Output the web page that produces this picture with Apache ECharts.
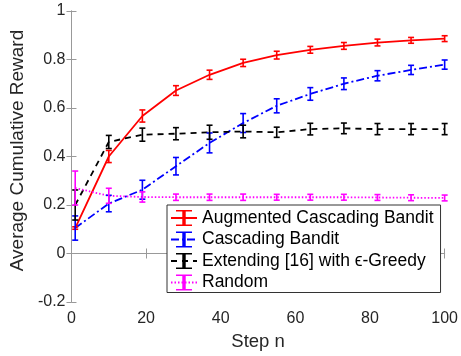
<!DOCTYPE html>
<html>
<head>
<meta charset="utf-8">
<script src="https://cdn.jsdelivr.net/npm/echarts@6/dist/echarts.min.js"></script>
<style>
  html, body { margin: 0; padding: 0; background: #fff; }
  #chart { width: 461px; height: 356px; }
</style>
</head>
<body>
<div id="chart"></div>
<script>
// steps on the x axis
const steps = [1, 10, 19, 28, 37, 46, 55, 64, 73, 82, 91, 100];

// mean values
const augmented = [0.105, 0.40, 0.567, 0.672, 0.737, 0.786, 0.818, 0.840, 0.856, 0.870, 0.879, 0.886];
const cascading = [0.105, 0.206, 0.263, 0.360, 0.456, 0.538, 0.609, 0.658, 0.700, 0.733, 0.757, 0.779];
const extending = [0.200, 0.460, 0.490, 0.494, 0.500, 0.503, 0.500, 0.513, 0.516, 0.513, 0.513, 0.513];
const random    = [0.270, 0.238, 0.233, 0.232, 0.232, 0.232, 0.232, 0.232, 0.232, 0.231, 0.230, 0.229];

// half-widths of the error bars
const augmentedErr = [0.005, 0.025, 0.025, 0.020, 0.019, 0.015, 0.016, 0.014, 0.014, 0.014, 0.012, 0.012];
const cascadingErr = [0.050, 0.034, 0.039, 0.036, 0.041, 0.039, 0.029, 0.026, 0.024, 0.021, 0.019, 0.019];
const extendingErr = [0.062, 0.027, 0.027, 0.025, 0.029, 0.026, 0.021, 0.024, 0.022, 0.023, 0.023, 0.023];
const randomErr    = [0.070, 0.031, 0.021, 0.013, 0.013, 0.013, 0.012, 0.012, 0.012, 0.012, 0.012, 0.012];

const names = ['Augmented Cascading Bandit', 'Cascading Bandit', 'Extending [16] with ϵ-Greedy', 'Random'];

const FONT = "'Liberation Sans', Arial, Helvetica, sans-serif";
const ibeam = 'path://M0,0H7V1.5H4.25V14.5H7V16H0V14.5H2.75V1.5H0Z';

const lineSeries = (name, ys, color, dash) => ({
  name: name,
  type: 'line',
  data: steps.map((x, i) => [x, ys[i]]),
  showSymbol: false,
  symbol: ibeam,
  symbolKeepAspect: true,
  itemStyle: {color: color},
  lineStyle: {color: color, width: 1.8, type: dash},
  z: 2
});

const errSeries = (name, ys, errs, color) => ({
  name: name + ' err',
  type: 'custom',
  data: steps.map((x, i) => [x, ys[i] - errs[i], ys[i] + errs[i]]),
  renderItem(params, api) {
    const top = api.coord([api.value(0), api.value(2)]);
    const bot = api.coord([api.value(0), api.value(1)]);
    const w = 3;
    const st = {stroke: color, lineWidth: 1.6};
    return {
      type: 'group',
      children: [
        {type: 'line', shape: {x1: top[0], y1: top[1], x2: bot[0], y2: bot[1]}, style: st},
        {type: 'line', shape: {x1: top[0] - w, y1: top[1], x2: top[0] + w, y2: top[1]}, style: st},
        {type: 'line', shape: {x1: bot[0] - w, y1: bot[1], x2: bot[0] + w, y2: bot[1]}, style: st}
      ]
    };
  },
  z: 3
});

const axisCommon = {
  min: 0, max: 100, interval: 20,
  axisLine: {lineStyle: {color: '#999', width: 1}},
  axisTick: {inside: true, length: 5, lineStyle: {color: '#999'}},
  splitLine: {show: false}
};

const chart = echarts.init(document.getElementById('chart'));
chart.setOption({
  animation: false,
  textStyle: {fontFamily: FONT},
  grid: {left: 67, right: 14, top: 11, bottom: 53},
  xAxis: [{
    ...axisCommon,
    type: 'value',
    position: 'bottom',
    name: 'Step n',
    nameLocation: 'middle',
    nameGap: 30,
    nameTextStyle: {fontSize: 18.5, color: '#262626', fontFamily: FONT},
    axisLabel: {fontSize: 16, color: '#262626', margin: 9, fontFamily: FONT}
  }, {
    ...axisCommon,
    type: 'value',
    position: 'top',
    axisLabel: {show: false}
  }],
  yAxis: [{
    ...axisCommon,
    type: 'value',
    min: -0.2, max: 1, interval: 0.2,
    name: 'Average Cumulative Reward',
    nameLocation: 'middle',
    nameGap: 43,
    nameTextStyle: {fontSize: 19, color: '#262626', fontFamily: FONT, padding: [0, 0, 0, 12]},
    axisLabel: {fontSize: 16, color: '#262626', margin: 6, fontFamily: FONT}
  }, {
    ...axisCommon,
    type: 'value',
    min: -0.2, max: 1, interval: 0.2,
    position: 'right',
    axisLabel: {show: false}
  }],
  legend: {
    data: names,
    orient: 'vertical',
    left: 167,
    top: 205,
    itemWidth: 26,
    itemHeight: 20,
    itemGap: 3.5,
    padding: [4, 7, 1, 3],
    borderColor: '#333',
    borderWidth: 1,
    backgroundColor: '#fff',
    textStyle: {fontSize: 17.5, color: '#000', fontFamily: FONT}
  },
  series: [
    lineSeries(names[0], augmented, '#ff0000', 'solid'),
    lineSeries(names[1], cascading, '#0000ff', [8, 3, 2, 3]),
    lineSeries(names[2], extending, '#000000', [6, 5]),
    lineSeries(names[3], random, '#ff00ff', [1.5, 2]),
    errSeries(names[0], augmented, augmentedErr, '#ff0000'),
    errSeries(names[1], cascading, cascadingErr, '#0000ff'),
    errSeries(names[2], extending, extendingErr, '#000000'),
    errSeries(names[3], random, randomErr, '#ff00ff')
  ]
});
</script>
</body>
</html>
